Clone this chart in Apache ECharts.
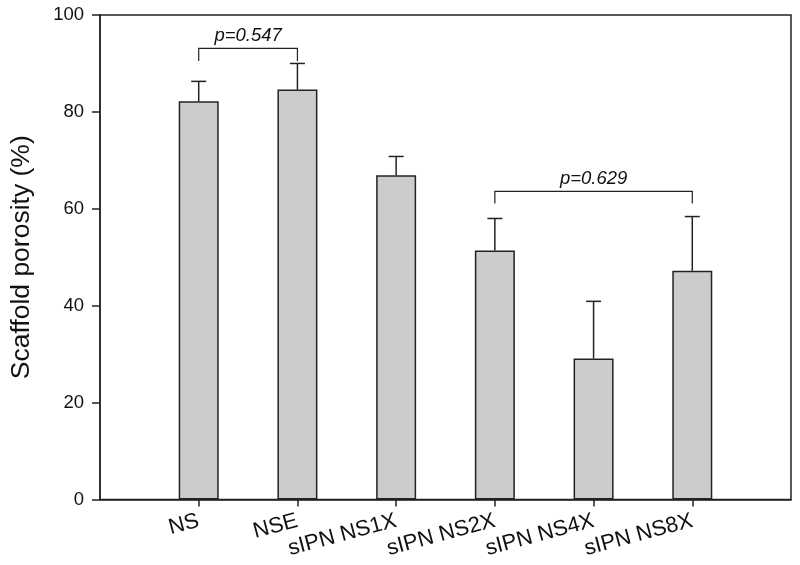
<!DOCTYPE html>
<html><head><meta charset="utf-8">
<script src="https://cdn.jsdelivr.net/npm/echarts@6/dist/echarts.min.js"></script>
<style>html,body{margin:0;padding:0;background:#fff}#c{width:800px;height:565px}</style>
</head><body><div id="c"></div>
<script>
// ---- data ----
const categories = ['NS', 'NSE', 'sIPN NS1X', 'sIPN NS2X', 'sIPN NS4X', 'sIPN NS8X'];
const porosity = [82.2, 84.6, 66.9, 51.4, 29.1, 47.2];
const porositySD = [4.1, 5.4, 3.9, 6.6, 11.8, 11.2];
const yTicks = [0, 20, 40, 60, 80, 100];
const pFrom = ['NS', 'sIPN NS2X'];
const pTo = ['NSE', 'sIPN NS8X'];
const pLevel = [93.1, 63.6];
const pLow = [90.5, 61.1];
const pLabels = ['p=0.547', 'p=0.629'];

const FONT = 'Liberation Sans, Arial, Helvetica, sans-serif';
const INK = '#222';
const axisCats = [''].concat(categories, ['']);
const idxOf = c => axisCats.indexOf(c);

const chart = echarts.init(document.getElementById('c'), null, {renderer: 'canvas'});
chart.setOption({
  animation: false,
  backgroundColor: '#fff',
  grid: {left: 99, top: 15, width: 692, height: 484.5, show: true, borderColor: INK, borderWidth: 1.5, backgroundColor: 'transparent'},
  xAxis: {
    type: 'category',
    data: axisCats,
    boundaryGap: false,
    axisLine: {lineStyle: {color: INK, width: 1.5}},
    axisTick: {show: true, length: 7, lineStyle: {color: INK, width: 1.5}, interval: (i, v) => v !== ''},
    axisLabel: {interval: 0, rotate: 15, fontSize: 22, fontFamily: FONT, color: '#111', margin: 21,
                hideOverlap: false, showMinLabel: false, showMaxLabel: false},
    splitLine: {show: false}
  },
  yAxis: {
    type: 'value',
    min: yTicks[0], max: yTicks[yTicks.length - 1], interval: yTicks[1] - yTicks[0],
    name: 'Scaffold porosity (%)',
    nameLocation: 'middle', nameGap: 65,
    nameTextStyle: {fontSize: 26.5, fontFamily: FONT, color: '#111'},
    axisLine: {show: true, lineStyle: {color: INK, width: 1.5}},
    axisTick: {show: true, length: 8, lineStyle: {color: INK, width: 1.5}},
    axisLabel: {fontSize: 18.5, fontFamily: FONT, color: '#111', margin: 16},
    splitLine: {show: false}
  },
  series: [
    {
      type: 'bar',
      data: [null].concat(porosity, [null]),
      barWidth: 40,
      itemStyle: {color: '#cccccc', borderColor: INK, borderWidth: 1.5},
      z: 2
    },
    {
      type: 'custom',
      z: 3,
      data: categories.map((c, i) => [idxOf(c), porosity[i], porosity[i] + porositySD[i]]),
      encode: {x: 0, y: [1, 2]},
      renderItem(params, api) {
        const x = api.value(0);
        const p0 = api.coord([x, api.value(1)]);
        const p1 = api.coord([x, api.value(2)]);
        const cap = 7.5;
        const st = {stroke: INK, lineWidth: 1.5};
        return {type: 'group', children: [
          {type: 'line', shape: {x1: p0[0], y1: p0[1], x2: p1[0], y2: p1[1]}, style: st},
          {type: 'line', shape: {x1: p1[0] - cap, y1: p1[1], x2: p1[0] + cap, y2: p1[1]}, style: st}
        ]};
      }
    },
    {
      type: 'custom',
      z: 4,
      data: pFrom.map((f, i) => [idxOf(f), idxOf(pTo[i]), pLevel[i], pLow[i]]),
      encode: {x: [0, 1], y: [2, 3]},
      renderItem(params, api) {
        const a = api.coord([api.value(0), api.value(2)]);
        const b = api.coord([api.value(1), api.value(2)]);
        const lowY = api.coord([api.value(0), api.value(3)])[1];
        const st = {stroke: INK, lineWidth: 1.2, fill: null};
        return {type: 'group', children: [
          {type: 'polyline', shape: {points: [[a[0], lowY], [a[0], a[1]], [b[0], b[1]], [b[0], lowY]]}, style: st},
          {type: 'text', x: (a[0] + b[0]) / 2, y: a[1] - 3,
           style: {text: pLabels[params.dataIndex], fontSize: 18.5, fontStyle: 'italic', fontFamily: FONT, fill: '#111', align: 'center', verticalAlign: 'bottom'}}
        ]};
      }
    }
  ]
});
</script>
</body></html>
